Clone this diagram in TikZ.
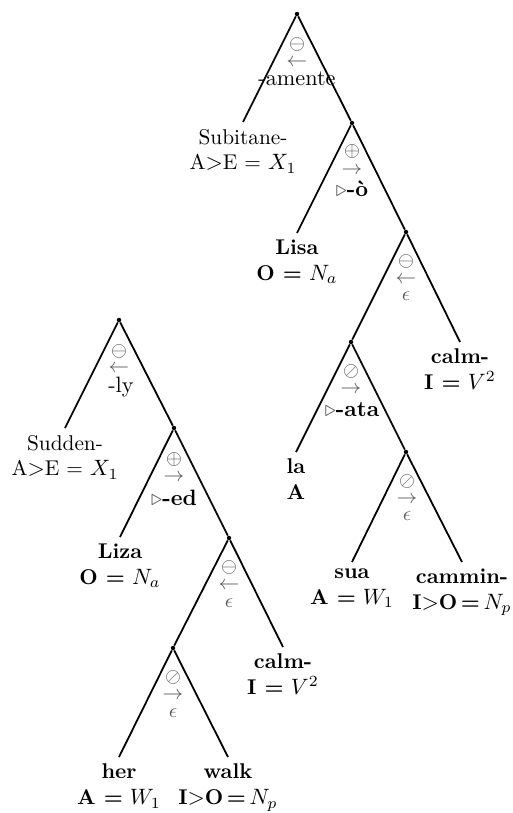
\documentclass[tikz,border=0pt]{standalone}
\usepackage{amsmath,amssymb}
\usepackage{xcolor}
\usepackage{tikz}
\usetikzlibrary{positioning}
\definecolor{opGray}{HTML}{5A5A5A}

\begin{document}
\begin{tikzpicture}[
    x=0.45pt, y=-0.45pt,
    dot/.style={circle, fill=black, inner sep=0pt, minimum size=2pt},
    leaf/.style={anchor=north, align=center, inner xsep=1pt, inner ysep=3pt,
      font=\fontsize{9.6}{11.6}\selectfont, execute at begin node=\strut},
    op/.style={text=opGray, inner sep=0pt, font=\small},
    affix/.style={anchor=base, inner sep=0pt},
    branch/.style={line width=0.8pt}
  ]
  \useasboundingbox (0,0) rectangle (512,813);

  % Italian tree
  \node[dot] (r1) at (297,14) {};
  \node[dot] (n1a) at (352,123) {};
  \node[dot] (n1b) at (406,232) {};
  \node[dot] (n1c) at (351,342) {};
  \node[dot] (n1d) at (406,452) {};

  \node[leaf] (subitane) at (243,122) {Subitane-\\A$>$E = $X_1$};
  \node[leaf] (lisa) at (297,233) {\textbf{Lisa}\\\textbf{O =} $N_a$};
  \node[leaf] (calmA) at (460,342) {\textbf{calm-}\\\textbf{I =} $V^2$};
  \node[leaf] (la) at (296,452) {\textbf{la}\\\textbf{A}};
  \node[leaf] (sua) at (352,562) {\textbf{sua}\\\textbf{A =} $W_1$};
  \node[leaf] (cammin) at (462,562) {\textbf{cammin-}\\\textbf{I}$>$\textbf{O\,=}\,$N_p$};

  \node[op] (r1sym) at (297,45) {$\ominus$};
  \node[op] (r1dir) at (297,63) {$\leftarrow$};
  \node[affix] (r1aff) at (297,86) {-amente};
  \node[op] (n1asym) at (352,152) {$\oplus$};
  \node[op] (n1adir) at (352,171) {$\rightarrow$};
  \node[affix] (n1aff) at (352,197) {\textcolor{opGray}{$\triangleright$}\textbf{-ò}};
  \node[op] (n1bsym) at (406,261) {$\ominus$};
  \node[op] (n1bdir) at (406,280) {$\leftarrow$};
  \node[op, anchor=base] (n1baff) at (406,300) {$\epsilon$};
  \node[op] (n1csym) at (351,371) {$\oslash$};
  \node[op] (n1cdir) at (351,390) {$\rightarrow$};
  \node[affix] (n1caff) at (352,416) {\textcolor{opGray}{$\triangleright$}\textbf{-ata}};
  \node[op] (n1dsym) at (407,481) {$\oslash$};
  \node[op] (n1ddir) at (407,500) {$\rightarrow$};
  \node[op, anchor=base] (n1daff) at (407,520) {$\epsilon$};

  \draw[branch] (r1) -- (subitane.north);
  \draw[branch] (r1) -- (n1a);
  \draw[branch] (n1a) -- (lisa.north);
  \draw[branch] (n1a) -- (n1b);
  \draw[branch] (n1b) -- (n1c);
  \draw[branch] (n1b) -- (calmA.north);
  \draw[branch] (n1c) -- (la.north);
  \draw[branch] (n1c) -- (n1d);
  \draw[branch] (n1d) -- (sua.north);
  \draw[branch] (n1d) -- (cammin.north);

  % English tree
  \node[dot] (r2) at (119,320) {};
  \node[dot] (n2a) at (174,428) {};
  \node[dot] (n2b) at (229,538) {};
  \node[dot] (n2c) at (173,648) {};

  \node[leaf] (sudden) at (65,428) {Sudden-\\A$>$E = $X_1$};
  \node[leaf] (liza) at (120,537) {\textbf{Liza}\\\textbf{O =} $N_a$};
  \node[leaf] (calmB) at (283,647) {\textbf{calm-}\\\textbf{I =} $V^2$};
  \node[leaf] (her) at (119,757) {\textbf{her}\\\textbf{A =} $W_1$};
  \node[leaf] (walk) at (228,757) {\textbf{walk}\\\textbf{I}$>$\textbf{O\,=}\,$N_p$};

  \node[op] (r2sym) at (119,351) {$\ominus$};
  \node[op] (r2dir) at (119,369) {$\leftarrow$};
  \node[affix] (r2aff) at (121,392) {-ly};
  \node[op] (n2asym) at (174,459) {$\oplus$};
  \node[op] (n2adir) at (174,478) {$\rightarrow$};
  \node[affix] (n2aff) at (174,505) {\textcolor{opGray}{$\triangleright$}\textbf{-ed}};
  \node[op] (n2bsym) at (229,567) {$\ominus$};
  \node[op] (n2bdir) at (229,586) {$\leftarrow$};
  \node[op, anchor=base] (n2baff) at (229,607) {$\epsilon$};
  \node[op] (n2csym) at (173,677) {$\oslash$};
  \node[op] (n2cdir) at (173,696) {$\rightarrow$};
  \node[op, anchor=base] (n2caff) at (173,717) {$\epsilon$};

  \draw[branch] (r2) -- (sudden.north);
  \draw[branch] (r2) -- (n2a);
  \draw[branch] (n2a) -- (liza.north);
  \draw[branch] (n2a) -- (n2b);
  \draw[branch] (n2b) -- (n2c);
  \draw[branch] (n2b) -- (calmB.north);
  \draw[branch] (n2c) -- (her.north);
  \draw[branch] (n2c) -- (walk.north);
\end{tikzpicture}
\end{document}
